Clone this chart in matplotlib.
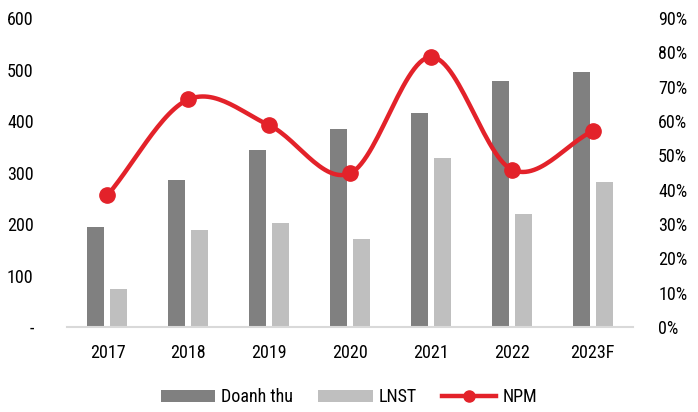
import numpy as np
import matplotlib
matplotlib.use("Agg")
from matplotlib import pyplot as plt
from matplotlib.ticker import FuncFormatter

years = ["2017", "2018", "2019", "2020", "2021", "2022", "2023F"]
doanh_thu = [195, 285, 344, 384, 415, 478, 495]
lnst = [74, 188, 203, 172, 328, 219, 282]
npm = [0.384, 0.663, 0.588, 0.448, 0.787, 0.459, 0.571]

plt.rcParams['font.family'] = ['Liberation Sans Narrow', 'Roboto Condensed', 'DejaVu Sans']
plt.rcParams['font.size'] = 13

dark = "#808080"
light = "#bfbfbf"
red = "#e3222a"


def smooth(xs, ys, n=30):
    # catmull-rom style smoothing, just for drawing the curve
    xs = np.asarray(xs, float)
    ys = np.asarray(ys, float)
    px = np.concatenate([[2 * xs[0] - xs[1]], xs, [2 * xs[-1] - xs[-2]]])
    py = np.concatenate([[2 * ys[0] - ys[1]], ys, [2 * ys[-1] - ys[-2]]])
    outx, outy = [], []
    for i in range(1, len(px) - 2):
        t = np.linspace(0, 1, n)
        for arr, out in ((px, outx), (py, outy)):
            p0, p1, p2, p3 = arr[i - 1], arr[i], arr[i + 1], arr[i + 2]
            out.extend(0.5 * ((2 * p1) + (-p0 + p2) * t
                              + (2 * p0 - 5 * p1 + 4 * p2 - p3) * t ** 2
                              + (-p0 + 3 * p1 - 3 * p2 + p3) * t ** 3))
    return np.array(outx), np.array(outy)


fig = plt.figure(figsize=(6.98, 4.12), dpi=100)
ax = fig.add_axes([0.096, 0.206, 0.811, 0.75])
x = np.arange(len(years))
w = 0.21
ax.bar(x - 0.142, doanh_thu, w, color=dark, label="Doanh thu", zorder=2)
ax.bar(x + 0.142, lnst, w, color=light, label="LNST", zorder=2)
ax.set_xlim(-0.5, len(years) - 0.5)
ax.set_ylim(0, 600)
ax.set_yticks(range(0, 601, 100))
ax.yaxis.set_major_formatter(FuncFormatter(lambda v, p: "-" if v == 0 else f"{v:.0f}"))
ax.set_xticks(x)
ax.set_xticklabels(years)
for s in ["top", "right", "left"]:
    ax.spines[s].set_visible(False)
ax.spines["bottom"].set_color("#d9d9d9")
ax.spines["bottom"].set_linewidth(1.5)
ax.tick_params(axis="both", length=0)
ax.tick_params(axis="y", pad=24)
ax.tick_params(axis="x", pad=12)

ax2 = ax.twinx()
ax2.set_ylim(0, 0.9)
ax2.set_yticks(np.arange(0, 0.91, 0.1))
ax2.yaxis.set_major_formatter(FuncFormatter(lambda v, p: f"{v * 100:.0f}%"))
for s in ax2.spines.values():
    s.set_visible(False)
ax2.tick_params(axis="y", length=0, pad=18)

sx, sy = smooth(x, npm)
ax2.plot(sx, sy, color=red, lw=3.2, zorder=3)
ax2.plot(x, npm, "o", color=red, ms=11, zorder=4)
npm_handle = plt.Line2D([], [], color=red, lw=3.2, marker="o", ms=8)

h, l = ax.get_legend_handles_labels()
fig.legend(h + [npm_handle], l + ["NPM"], loc="lower center", ncol=3,
           bbox_to_anchor=(0.5, -0.025), frameon=False, handlelength=3.0,
           handleheight=0.65, columnspacing=1.4, handletextpad=0.35)

fig.savefig("out.png", dpi=100)
